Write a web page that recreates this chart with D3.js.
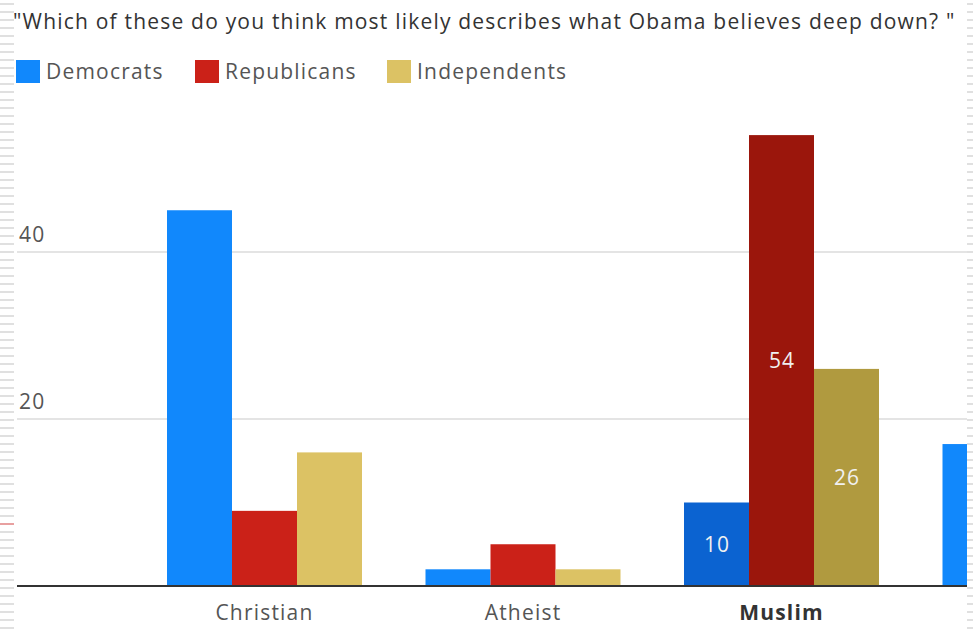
<!DOCTYPE html>
<html>
<head>
<meta charset="utf-8">
<script src="https://cdn.jsdelivr.net/npm/d3@7"></script>
<style>
  body { margin: 0; background: #fff; }
  svg { display: block; font-family: "Open Sans", sans-serif; letter-spacing: 1.2px; }
</style>
</head>
<body>
<svg width="973" height="633"></svg>
<script>
const categories = ["Christian", "Atheist", "Muslim", "Not sure"];
const series = ["Democrats", "Republicans", "Independents"];
const democrats = [45, 2, 10, 17];
const republicans = [9, 5, 54, null];
const independents = [16, 2, 26, null];
const yTicks = [20, 40];
const highlight = "Muslim";

const colors = ["#1188fc", "#cb2118", "#dcc264"];
const darkColors = ["#0b63d1", "#9b160c", "#b09a3f"];

const svg = d3.select("svg");
const width = +svg.attr("width");
const height = +svg.attr("height");

const margin = { top: 85, right: 6, bottom: 47, left: 17 };
const baseY = height - margin.bottom;
const fontSize = 21;

// edge stripes of the screenshot frame
const stripes = d3.range(4, height, 8);
svg.append("g").selectAll("line").data(stripes).join("line")
  .attr("x1", 0).attr("x2", 14)
  .attr("y1", d => d).attr("y2", d => d)
  .attr("stroke", d => d === 524 ? "#e08080" : "#d6d6d6")
  .attr("stroke-width", 1.5);
svg.append("g").selectAll("line").data(stripes).join("line")
  .attr("x1", 967).attr("x2", width)
  .attr("y1", d => d).attr("y2", d => d)
  .attr("stroke", "#d6d6d6")
  .attr("stroke-width", 1.5);

// title
svg.append("text")
  .attr("x", 13)
  .attr("y", 29)
  .attr("font-size", fontSize)
  .attr("fill", "#333")
  .text("\"Which of these do you think most likely describes what Obama believes deep down? \"");

// legend
const legendX = [16, 195, 387];
const legend = svg.append("g").selectAll("g").data(series).join("g")
  .attr("transform", (d, i) => `translate(${legendX[i]}, 60)`);
legend.append("rect")
  .attr("width", 24).attr("height", 23)
  .attr("fill", (d, i) => colors[i]);
legend.append("text")
  .attr("x", 30).attr("y", 19)
  .attr("font-size", fontSize)
  .attr("fill", "#555")
  .text(d => d);

const yScale = d3.scaleLinear().domain([0, 60]).range([baseY, baseY - 60 * 8.35]);

const xScale = d3.scaleBand()
  .domain(categories)
  .range([135.25, 135.25 + categories.length * 258.5]);

const inner = d3.scaleBand()
  .domain(series)
  .range([31.75, xScale.bandwidth() - 31.75]);

svg.append("clipPath").attr("id", "plot")
  .append("rect")
  .attr("x", margin.left).attr("y", 0)
  .attr("width", width - margin.right - margin.left)
  .attr("height", height);

const g = svg.append("g").attr("clip-path", "url(#plot)");

// gridlines and tick labels
g.append("g").selectAll("line").data(yTicks).join("line")
  .attr("x1", margin.left).attr("x2", width - margin.right)
  .attr("y1", d => yScale(d)).attr("y2", d => yScale(d))
  .attr("stroke", "#e4e4e4")
  .attr("stroke-width", 2);

g.append("g").selectAll("text").data(yTicks).join("text")
  .attr("x", 19)
  .attr("y", d => yScale(d) - 10)
  .attr("font-size", fontSize)
  .attr("fill", "#555")
  .text(d => d);

const values = [democrats, republicans, independents];
const bars = [];
categories.forEach((c, ci) => {
  series.forEach((s, si) => {
    const v = values[si][ci];
    if (v != null) bars.push({ cat: c, series: s, si, value: v });
  });
});

g.append("g").selectAll("rect").data(bars).join("rect")
  .attr("x", d => xScale(d.cat) + inner(d.series))
  .attr("y", d => yScale(d.value))
  .attr("width", inner.bandwidth())
  .attr("height", d => baseY - yScale(d.value))
  .attr("fill", d => d.cat === highlight ? darkColors[d.si] : colors[d.si]);

// value labels on highlighted group
g.append("g").selectAll("text").data(bars.filter(d => d.cat === highlight)).join("text")
  .attr("x", d => xScale(d.cat) + inner(d.series) + inner.bandwidth() / 2 + 0.6)
  .attr("y", d => (yScale(d.value) + baseY) / 2)
  .attr("dy", "0.35em")
  .attr("text-anchor", "middle")
  .attr("font-size", fontSize)
  .attr("fill", "#f0f0f0")
  .text(d => d.value);

// x axis, only for categories whose label fits in view
const visibleCats = categories.filter(c => xScale(c) + xScale.bandwidth() / 2 < width);
const xAxis = d3.axisBottom(xScale).tickValues(visibleCats).tickSize(0).tickPadding(19);
const axis = svg.append("g")
  .attr("transform", `translate(0, ${baseY})`)
  .call(xAxis);
axis.select(".domain").remove();
axis.selectAll("text")
  .attr("font-size", fontSize)
  .attr("font-family", "'Open Sans', sans-serif")
  .attr("font-weight", d => d === highlight ? "bold" : "normal")
  .attr("fill", d => d === highlight ? "#333" : "#555");

svg.append("line")
  .attr("x1", margin.left).attr("x2", width - margin.right)
  .attr("y1", baseY).attr("y2", baseY)
  .attr("stroke", "#333")
  .attr("stroke-width", 2);
</script>
</body>
</html>
